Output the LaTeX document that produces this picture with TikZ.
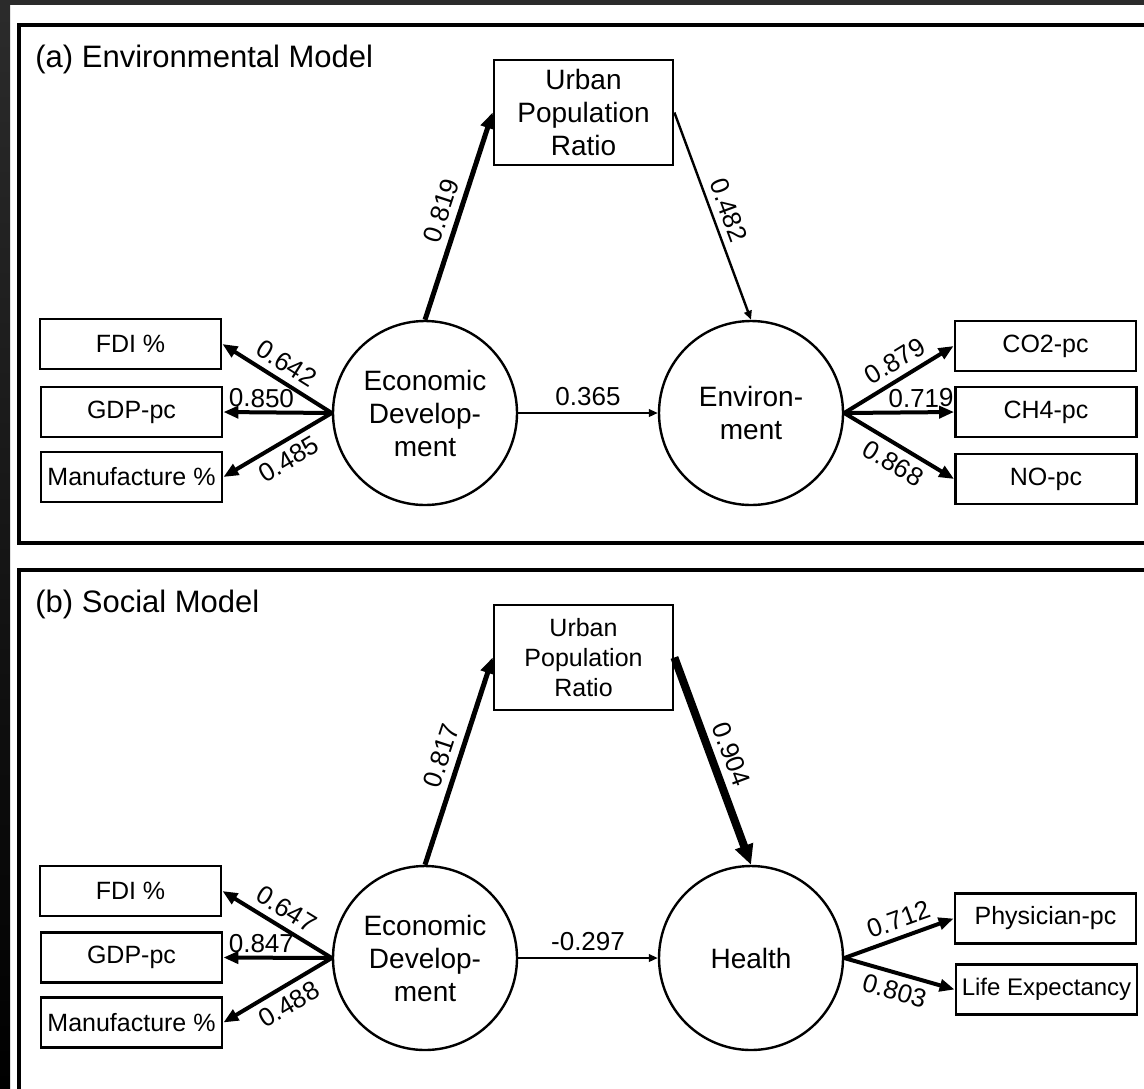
\documentclass[tikz,border=0pt]{standalone}
\usepackage{fontspec}
\setmainfont{Liberation Sans}
\usetikzlibrary{arrows.meta}

\begin{document}
\begin{tikzpicture}[x=0.5pt, y={(0pt,-0.5pt)},
  leaf/.style={draw, line width=1.4pt, rectangle, inner sep=0pt,
    minimum width=90.5pt, minimum height=25pt, font=\fontsize{12.5}{15}\selectfont},
  urban/.style={draw, line width=1.4pt, rectangle, inner sep=0pt,
    minimum width=89.5pt, minimum height=52.5pt, align=center},
  latent/.style={draw, line width=1.2pt, circle, inner sep=0pt,
    minimum size=92pt, align=center, font=\fontsize{14}{16.5}\selectfont},
  heavy/.style={-{Triangle[length=7.5pt,width=6pt]}, line width=2pt},
  light/.style={-{Triangle[length=4.5pt,width=3.8pt]}, line width=1pt},
  coef/.style={font=\fontsize{13}{15}\selectfont, sloped},
  title/.style={anchor=base west, inner sep=0pt, font=\fontsize{15.5}{18}\selectfont}]

  \useasboundingbox (0,0) rectangle (1144,1088);
  \clip (0,0) rectangle (1144,1088);
  \fill[white] (0,0) rectangle (1144,1088);
  \fill[black!83] (0,0) rectangle (1144,5);
  \shade[top color=black!83, bottom color=black] (0,0) rectangle (10,1088);

  % (a) environmental model
  \draw[line width=1.6pt] (19,25) rectangle (1170,543);
  \node [title] (ttlA) at (35,67) {(a) Environmental Model};

  \node [urban, font=\fontsize{14}{16.5}\selectfont] (urbA) at (583.5,112.5) {Urban\\Population\\Ratio};
  \node [latent] (econA) at (425,413) {Economic\\Develop-\\ment};
  \node [latent] (envA)  at (751,413) {Environ-\\ment};

  \node [leaf] (fdiA) at (130.5,344) {FDI \%};
  \node [leaf] (gdpA) at (131.5,412) {GDP-pc};
  \node [leaf] (manA) at (131.5,477) {Manufacture \%};
  \node [leaf] (co2A) at (1045.5,346) {CO2-pc};
  \node [leaf] (ch4A) at (1046,412) {CH4-pc};
  \node [leaf] (noA)  at (1046,479) {NO-pc};

  \path (econA.north) edge [heavy, line width=2.5pt, -{Triangle[length=8pt,width=7pt]}]
        node [coef, above] {0.819} (urbA.west);
  \path (urbA.east) edge [light, line width=1.2pt] node [coef, above] {0.482} (envA.north);
  \path (econA.east) edge [light] node [coef, above] {0.365} (envA.west);

  \path (econA.west) edge [heavy] node [coef, above] {0.642} (fdiA.east);
  \path (econA.west) edge [heavy] node [coef, above, pos=0.65, inner sep=1.5pt] {0.850} (gdpA.east);
  \path (econA.west) edge [heavy] node [coef, below, pos=0.48] {0.485} (manA.east);
  \path (envA.east) edge [heavy] node [coef, above, pos=0.55] {0.879} (co2A.west);
  \path (envA.east) edge [heavy] node [coef, above, pos=0.7, inner sep=1.5pt] {0.719} (ch4A.west);
  \path (envA.east) edge [heavy] node [coef, below, pos=0.53] {0.868} (noA.west);

  % (b) social model
  \draw[line width=1.6pt] (19,570) rectangle (1170,1110);
  \node [title] (ttlB) at (35,612) {(b) Social Model};

  \node [urban, font=\fontsize{12.5}{15}\selectfont] (urbB) at (583.5,657.5) {Urban\\Population\\Ratio};
  \node [latent] (econB) at (425,958) {Economic\\Develop-\\ment};
  \node [latent] (hlthB) at (751,958) {Health};

  \node [leaf] (fdiB) at (130.5,891) {FDI \%};
  \node [leaf] (gdpB) at (131.5,957.5) {GDP-pc};
  \node [leaf] (manB) at (131.5,1022.5) {Manufacture \%};
  \node [leaf] (physB) at (1045.5,918.5) {Physician-pc};
  \node [leaf, font=\fontsize{12}{14}\selectfont] (lifeB) at (1046.5,989.5) {Life Expectancy};

  \path (econB.north) edge [heavy, line width=2.5pt, -{Triangle[length=8pt,width=7pt]}]
        node [coef, above] {0.817} (urbB.west);
  \path (urbB.east) edge [heavy, line width=4pt, -{Triangle[length=10pt,width=9pt]}]
        node [coef, above] {0.904} (hlthB.north);
  \path (econB.east) edge [light] node [coef, above] {-0.297} (hlthB.west);

  \path (econB.west) edge [heavy] node [coef, above] {0.647} (fdiB.east);
  \path (econB.west) edge [heavy] node [coef, above, pos=0.65, inner sep=1.5pt] {0.847} (gdpB.east);
  \path (econB.west) edge [heavy] node [coef, below, pos=0.48] {0.488} (manB.east);
  \path (hlthB.east) edge [heavy] node [coef, above, pos=0.55] {0.712} (physB.west);
  \path (hlthB.east) edge [heavy] node [coef, below, pos=0.5] {0.803} (lifeB.west);
\end{tikzpicture}
\end{document}
